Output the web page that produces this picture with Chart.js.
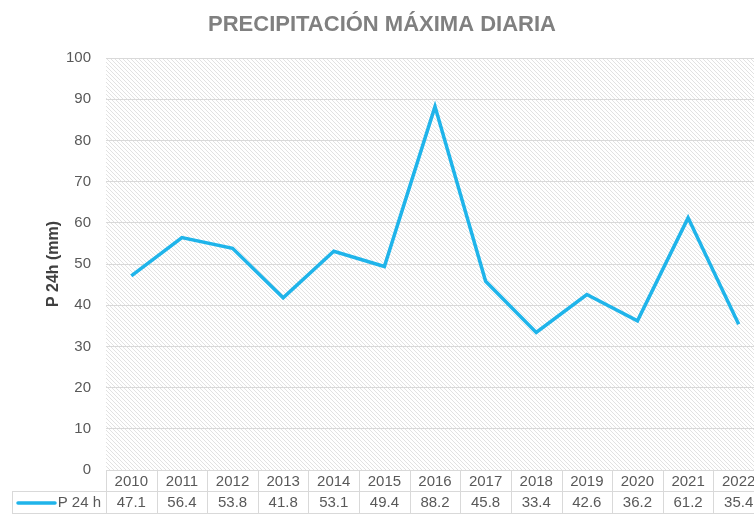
<!DOCTYPE html>
<html>
<head>
<meta charset="utf-8">
<script src="https://cdn.jsdelivr.net/npm/chart.js@4/dist/chart.umd.min.js"></script>
<style>
html,body{margin:0;padding:0;background:#fff;overflow:hidden;}
#wrap{width:754px;height:515px;overflow:hidden;position:relative;}
canvas{display:block;}
</style>
</head>
<body>
<div id="wrap"><canvas id="c" width="766" height="515"></canvas></div>
<script>
const categories = ['2010','2011','2012','2013','2014','2015','2016','2017','2018','2019','2020','2021','2022'];
const seriesName = 'P 24 h';
const p24Values = [47.1, 56.4, 53.8, 41.8, 53.1, 49.4, 88.2, 45.8, 33.4, 42.6, 36.2, 61.2, 35.4];
const yTicks = [0,10,20,30,40,50,60,70,80,90,100];

const FONT = '"Liberation Sans", Arial, sans-serif';
const TXT = '#595959';
const GRID = '#d9d9d9';
const LINE = '#1fb4ea';

function makeHatch(ctx){
  const t = document.createElement('canvas');
  t.width = 4; t.height = 4;
  const g = t.getContext('2d');
  g.fillStyle = '#ffffff'; g.fillRect(0,0,4,4);
  g.fillStyle = '#e2e2e2';
  for (let i=0;i<4;i++) g.fillRect(i,i,1,1);
  return ctx.createPattern(t,'repeat');
}

const bgPlugin = {
  id:'hatchBg',
  beforeDraw(chart){
    const {ctx, chartArea:a} = chart;
    ctx.save();
    ctx.fillStyle = makeHatch(ctx);
    ctx.fillRect(a.left, a.top, a.right-a.left, a.bottom-a.top);
    ctx.restore();
  }
};

const tablePlugin = {
  id:'dataTable',
  afterDraw(chart){
    const {ctx, chartArea:a, scales:{x}} = chart;
    const n = categories.length;
    const w = (a.right - a.left)/n;
    const r0 = a.bottom, r1 = a.bottom + 21, r2 = a.bottom + 43;
    const headL = 12;
    ctx.save();
    ctx.strokeStyle = GRID; ctx.lineWidth = 1;
    ctx.beginPath();
    ctx.moveTo(a.left, r0+0.5); ctx.lineTo(a.right, r0+0.5);
    ctx.moveTo(headL, r1+0.5); ctx.lineTo(a.right, r1+0.5);
    ctx.moveTo(headL, r2+0.5); ctx.lineTo(a.right, r2+0.5);
    ctx.moveTo(headL+0.5, r1); ctx.lineTo(headL+0.5, r2);
    for (let i=0;i<=n;i++){
      const xx = Math.round(a.left + i*w)+0.5;
      ctx.moveTo(xx, r0); ctx.lineTo(xx, r2);
    }
    ctx.stroke();
    ctx.fillStyle = TXT;
    ctx.font = '15px ' + FONT;
    ctx.textAlign = 'center'; ctx.textBaseline = 'middle';
    for (let i=0;i<n;i++){
      const cx = x.getPixelForValue(i);
      ctx.fillText(categories[i], cx, (r0+r1)/2+1);
      ctx.fillText(p24Values[i].toFixed(1), cx, (r1+r2)/2+1);
    }
    // legend key
    ctx.strokeStyle = LINE; ctx.lineWidth = 3.5; ctx.lineCap='round';
    ctx.beginPath(); ctx.moveTo(18, (r1+r2)/2+1); ctx.lineTo(55,(r1+r2)/2+1); ctx.stroke();
    ctx.textAlign = 'right';
    ctx.fillText(seriesName, 101, (r1+r2)/2+1);
    ctx.restore();
  }
};

new Chart(document.getElementById('c'), {
  type:'line',
  data:{
    labels: categories,
    datasets:[{
      label: seriesName,
      data: p24Values,
      borderColor: LINE,
      backgroundColor: LINE,
      borderWidth: 3.5,
      pointRadius: 0,
      pointHoverRadius: 0,
      tension: 0,
      fill: false
    }]
  },
  options:{
    responsive:false,
    animation:false,
    events:[],
    layout:{padding:{top:0,left:0,right:2,bottom:45}},
    plugins:{
      legend:{display:false},
      tooltip:{enabled:false},
      title:{
        display:true,
        text:'PRECIPITACIÓN MÁXIMA DIARIA',
        color:'#808080',
        font:{family:FONT, size:22, weight:'bold'},
        padding:{top:12, bottom:19.6}
      }
    },
    scales:{
      x:{
        type:'category',
        offset:true,
        display:false
      },
      y:{
        min:0, max:100,
        afterBuildTicks(s){ s.ticks = yTicks.map(v=>({value:v})); },
        afterFit(s){ s.width = 106; },
        border:{display:false},
        grid:{color:GRID, lineWidth:1, drawTicks:false},
        ticks:{color:TXT, font:{family:FONT, size:15}, padding:15},
        title:{
          display:true,
          text:'P 24h (mm)',
          color:'#404040',
          font:{family:FONT, size:16, weight:'bold'},
          padding:{top:44, bottom:0}
        }
      }
    }
  },
  plugins:[bgPlugin, tablePlugin]
});
</script>
</body>
</html>
